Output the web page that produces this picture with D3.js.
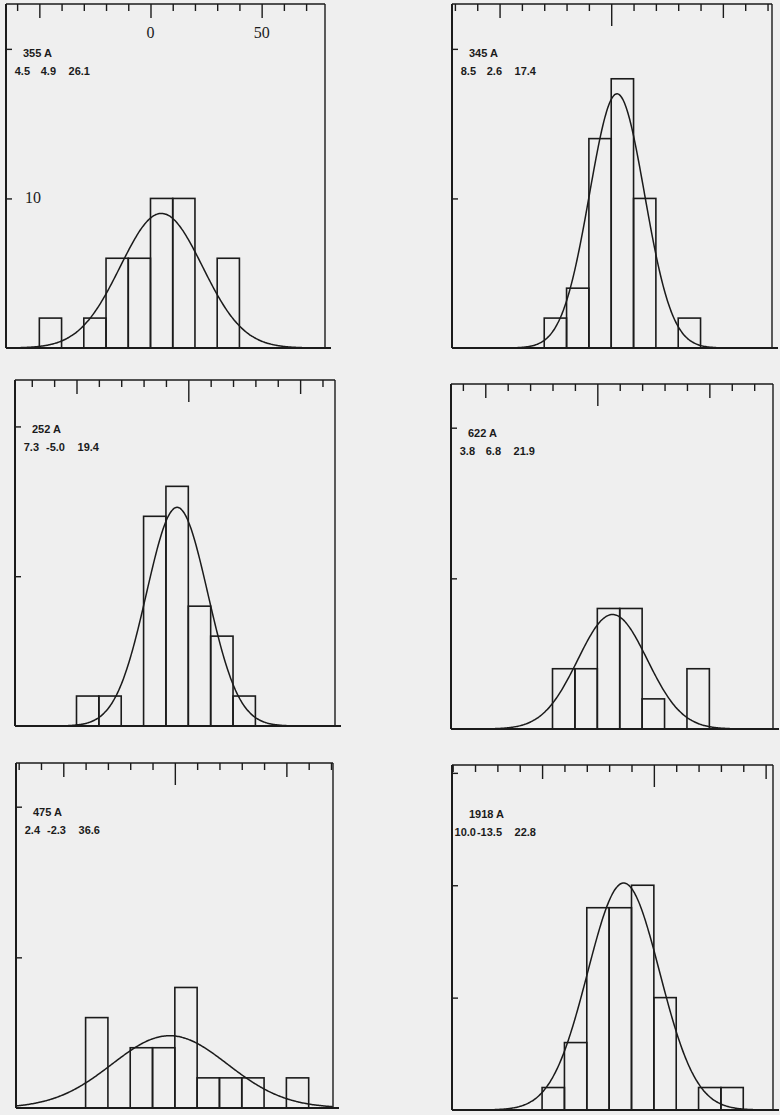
<!DOCTYPE html>
<html>
<head>
<meta charset="utf-8">
<script src="https://cdn.jsdelivr.net/npm/d3@7"></script>
<style>
  body { margin: 0; background: #efefef; }
  svg { display: block; }
</style>
</head>
<body>
<div id="chart"></div>
<script>
// sample labels and the three numbers printed under each one
const sampleNames = ["355 A", "345 A", "252 A", "622 A", "475 A", "1918 A"]
const firstValues = ["4.5", "8.5", "7.3", "3.8", "2.4", "10.0"]
const centers = [4.9, 2.6, -5.0, 6.8, -2.3, -13.5]
const widths = [26.1, 17.4, 19.4, 21.9, 36.6, 22.8]
// height of the fitted curve at its top (counts)
const peaks = [9.0, 17.0, 14.6, 7.6, 4.8, 20.2]

// histograms, bins 10 wide, starting at binStarts
const binStarts = [-50, -30, -50, -20, -40, -50]
const counts355 = [2, 0, 2, 6, 6, 10, 10, 0, 6]
const counts345 = [2, 4, 14, 18, 10, 0, 2]
const counts252 = [2, 2, 0, 14, 16, 8, 6, 2]
const counts622 = [4, 4, 8, 8, 2, 0, 4]
const counts475 = [6, 0, 4, 4, 8, 2, 2, 2, 0, 2]
const counts1918 = [2, 6, 18, 18, 20, 10, 0, 2, 2]
const allCounts = [counts355, counts345, counts252, counts622, counts475, counts1918]

// axis ranges
const xDomains = [[-65, 78.5], [-71.3, 72], [-77.5, 65.6], [-65.3, 78.4], [-71.2, 70.9], [-90.3, 53.3]]
const yMax = [23, 23, 23.1, 22.9, 22.9, 30.7]
const yTicks = [[10, 20], [10, 20], [10, 20], [10, 20], [10, 20], [10, 20, 30]]
const xTickLabels = [0, 50]   // only on the first panel
const yTickLabels = [10]

// panel frames on the page
const frames = [
  { x0: 6, x1: 325, y0: 4, y1: 348 },
  { x0: 452, x1: 772, y0: 4, y1: 348 },
  { x0: 15, x1: 335, y0: 380, y1: 726 },
  { x0: 451, x1: 773, y0: 384, y1: 729 },
  { x0: 16, x1: 333, y0: 763, y1: 1108 },
  { x0: 452, x1: 773, y0: 765, y1: 1110 }
]

const INK = "#1b1b1b"

const svg = d3.select("#chart").append("svg")
  .attr("width", 780)
  .attr("height", 1115)

svg.append("rect")
  .attr("width", 780)
  .attr("height", 1115)
  .attr("fill", "#efefef")

frames.forEach((f, i) => {
  const g = svg.append("g").attr("class", "panel")

  const x = d3.scaleLinear().domain(xDomains[i]).range([f.x0, f.x1])
  const y = d3.scaleLinear().domain([0, yMax[i]]).range([f.y1, f.y0])

  // bars
  const bins = allCounts[i]
    .map((c, j) => ({ lo: binStarts[i] + 10 * j, hi: binStarts[i] + 10 * (j + 1), c: c }))
    .filter(d => d.c > 0)

  g.selectAll(".bar")
    .data(bins)
    .enter().append("rect")
    .attr("class", "bar")
    .attr("x", d => x(d.lo))
    .attr("y", d => y(d.c))
    .attr("width", d => x(d.hi) - x(d.lo))
    .attr("height", d => y(0) - y(d.c))
    .attr("fill", "none")
    .attr("stroke", INK)
    .attr("stroke-width", 1.6)

  // fitted gaussian from the printed centre and width
  const xs = d3.range(xDomains[i][0], xDomains[i][1], 0.5)
  const curve = d3.line()
    .x(v => x(v))
    .y(v => y(peaks[i] * Math.exp(-Math.pow((v - centers[i]) / widths[i], 2))))
    .curve(d3.curveBasis)

  g.append("path")
    .attr("d", curve(xs))
    .attr("fill", "none")
    .attr("stroke", INK)
    .attr("stroke-width", 1.5)

  // frame: top, right, left axis, bottom axis
  g.append("line")
    .attr("x1", f.x0).attr("x2", f.x1)
    .attr("y1", f.y0).attr("y2", f.y0)
    .attr("stroke", INK).attr("stroke-width", 1.4)
  g.append("line")
    .attr("x1", f.x1).attr("x2", f.x1)
    .attr("y1", f.y0).attr("y2", f.y1)
    .attr("stroke", INK).attr("stroke-width", 1.4)
  g.append("line")
    .attr("x1", f.x0).attr("x2", f.x0)
    .attr("y1", f.y0).attr("y2", f.y1)
    .attr("stroke", INK).attr("stroke-width", 2)
  g.append("line")
    .attr("x1", f.x0).attr("x2", f.x1 + 6)
    .attr("y1", f.y1).attr("y2", f.y1)
    .attr("stroke", INK).attr("stroke-width", 2.2)

  // top ticks pointing down
  const tickVals = d3.range(Math.ceil(xDomains[i][0] / 10) * 10, xDomains[i][1], 10)
  const topAxis = d3.axisBottom(x)
    .tickValues(tickVals)
    .tickSize(7)
    .tickFormat("")
  const ta = g.append("g")
    .attr("transform", `translate(0, ${f.y0})`)
    .call(topAxis)
  ta.select(".domain").remove()
  ta.selectAll(".tick line")
    .attr("stroke", INK)
    .attr("stroke-width", 1.4)
    .attr("y2", d => {
      if (i === 0) return d % 50 === 0 ? 14 : 7
      return d === 0 ? 22 : (d % 50 === 0 ? 14 : 7)
    })

  // left ticks pointing in
  const leftAxis = d3.axisRight(y)
    .tickValues(yTicks[i])
    .tickSize(6)
    .tickFormat("")
  const la = g.append("g")
    .attr("transform", `translate(${f.x0}, 0)`)
    .call(leftAxis)
  la.select(".domain").remove()
  la.selectAll(".tick line")
    .attr("stroke", INK)
    .attr("stroke-width", 1.4)

  // tick numbers (first panel only)
  if (i === 0) {
    g.selectAll(".xlab")
      .data(xTickLabels)
      .enter().append("text")
      .attr("class", "xlab")
      .attr("x", d => x(d))
      .attr("y", f.y0 + 34)
      .attr("text-anchor", "middle")
      .attr("font-family", "Liberation Serif, serif")
      .attr("font-size", "16px")
      .attr("fill", INK)
      .text(d => d)
    g.selectAll(".ylab")
      .data(yTickLabels)
      .enter().append("text")
      .attr("class", "ylab")
      .attr("x", f.x0 + 19)
      .attr("y", d => y(d) + 5)
      .attr("font-family", "Liberation Serif, serif")
      .attr("font-size", "16px")
      .attr("fill", INK)
      .text(d => d)
  }

  // sample label
  const lab = g.append("g")
    .attr("font-family", "Liberation Sans, Arial, sans-serif")
    .attr("font-size", "11px")
    .attr("font-weight", "bold")
    .attr("fill", INK)
  lab.append("text")
    .attr("x", f.x0 + 17)
    .attr("y", f.y0 + 53)
    .text(sampleNames[i])
  const cols = [firstValues[i], centers[i].toFixed(1), widths[i].toFixed(1)]
  const colRight = [24, 50, 84]
  cols.forEach((t, k) => {
    lab.append("text")
      .attr("x", f.x0 + colRight[k])
      .attr("y", f.y0 + 71)
      .attr("text-anchor", "end")
      .text(t)
  })
})
</script>
</body>
</html>
